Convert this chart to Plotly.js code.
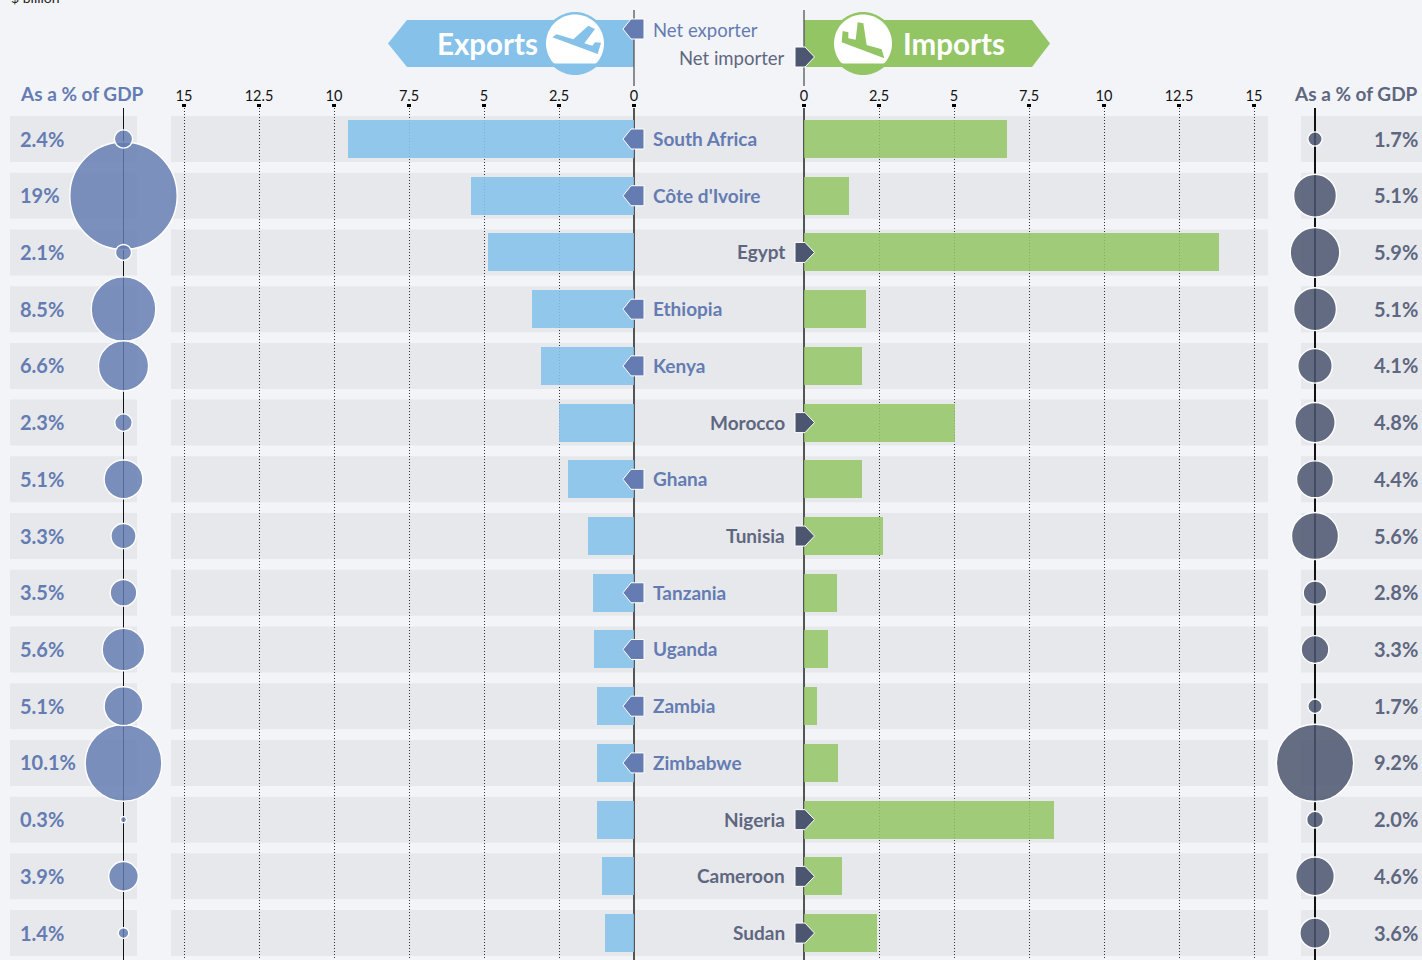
<!DOCTYPE html>
<html><head><meta charset="utf-8">
<script src="https://cdn.plot.ly/plotly-3.0.1.min.js"></script>
<style>html,body{margin:0;padding:0;background:#f3f4f8;overflow:hidden}#c{width:1422px;height:960px}</style>
</head><body><div id="c"></div>
<script>
const countries = ["South Africa","Côte d'Ivoire","Egypt","Ethiopia","Kenya","Morocco","Ghana","Tunisia","Tanzania","Uganda","Zambia","Zimbabwe","Nigeria","Cameroon","Sudan"];
const exportsBn = [9.53,5.43,4.87,3.4,3.1,2.5,2.2,1.53,1.37,1.33,1.23,1.23,1.23,1.07,0.97];
const importsBn = [6.77,1.5,13.83,2.07,1.93,5.03,1.93,2.63,1.1,0.8,0.43,1.13,8.33,1.27,2.43];
const exportsGdp = [2.4,19,2.1,8.5,6.6,2.3,5.1,3.3,3.5,5.6,5.1,10.1,0.3,3.9,1.4];
const importsGdp = [1.7,5.1,5.9,5.1,4.1,4.8,4.4,5.6,2.8,3.3,1.7,9.2,2.0,4.6,3.6];
const tickVals = [0,2.5,5,7.5,10,12.5,15];
const tickText = ["0","2.5","5","7.5","10","12.5","15"];

const W=1422,H=960, ROW0=139, ROWH=56.72, TOP=108;
const BLUE='#647cb2', SLATE='#5e677f', DARK='#4d5670', HEAD_B='#85c1e9', HEAD_G='#93c565', BAND='#e7e8ec';
const NARROW='Lato,"Liberation Sans",sans-serif';
const TICKF='Lato,sans-serif';
const px=x=>x/W, py=y=>1-y/H;
const poly=(pts)=>'M'+pts.map(p=>px(p[0])+','+py(p[1])).join(' L')+' Z';
const rowY=i=>ROW0+ROWH*i;
const idx=countries.map((_,i)=>i);

const sizeL=v=>Math.max(6,Math.min(v,14.13)*7.6);
const sizeR=v=>v*8.4;
// biggest bubbles first, so the small ones sit on top of them
const byDesc=arr=>idx.slice().sort((a,b)=>arr[b]-arr[a]);
const orderL=byDesc(exportsGdp), orderR=byDesc(importsGdp);

const traces=[
 {type:'bar',orientation:'h',x:exportsBn,y:countries,xaxis:'x',yaxis:'y',width:0.67,marker:{color:'rgba(133,193,233,0.88)',line:{width:0}},hoverinfo:'x+y'},
 {type:'bar',orientation:'h',x:importsBn,y:countries,xaxis:'x2',yaxis:'y',width:0.67,marker:{color:'rgba(147,197,101,0.85)',line:{width:0}},hoverinfo:'x+y'},
 {type:'scatter',mode:'markers',x:orderL.map(()=>0),y:orderL.map(i=>countries[i]),xaxis:'x3',yaxis:'y',cliponaxis:false,text:orderL.map(i=>exportsGdp[i]+'%'),hoverinfo:'text+y',
  marker:{size:orderL.map(i=>sizeL(exportsGdp[i])),opacity:1,color:'rgba(100,124,178,0.84)',line:{color:'#fff',width:1.4}}},
 {type:'scatter',mode:'markers',x:orderR.map(()=>0),y:orderR.map(i=>countries[i]),xaxis:'x4',yaxis:'y',cliponaxis:false,text:orderR.map(i=>importsGdp[i].toFixed(1)+'%'),hoverinfo:'text+y',
  marker:{size:orderR.map(i=>sizeR(importsGdp[i])),opacity:1,color:'rgba(77,86,112,0.86)',line:{color:'#fff',width:1.4}}}
];

const shapes=[];
// row bands
idx.forEach(i=>{[[10,137],[171,1268],[1301,1422]].forEach(b=>{
  shapes.push({type:'rect',layer:'below',xref:'paper',yref:'paper',x0:px(b[0]),x1:px(b[1]),y0:py(rowY(i)-23),y1:py(rowY(i)+23),fillcolor:BAND,line:{width:0}});
});});
function roundPts(cx,cy,r,clip){const a=[];for(let k=0;k<72;k++){const t=k*Math.PI/36;a.push([cx+r*Math.cos(t),Math.min(cy+r*Math.sin(t),clip)]);}return a;}
const addPoly=(pts,fill,extra)=>shapes.push(Object.assign({type:'path',layer:'above',xref:'paper',yref:'paper',path:poly(pts),fillcolor:fill,line:{width:0}},extra||{}));
// header banners
addPoly([[388,43.5],[407,20],[634,20],[634,67],[407,67]],HEAD_B);
addPoly([[804,20],[1032,20],[1050,43.5],[1032,67],[804,67]],HEAD_G);
addPoly(roundPts(575,43.5,31.5,99),HEAD_B);
addPoly(roundPts(575,43.5,29,63.5),'#fff');
addPoly(roundPts(863,43.5,31.5,99),HEAD_G);
addPoly(roundPts(863,43.5,29,63.5),'#fff');
// plane icons (zoomed coordinates → page pixels)
const z=(ox,oy,p)=>p.map(q=>[ox+q[0]/3,oy+q[1]/3]);
addPoly(z(535,5,[[52,97],[65,88],[115,103],[160,62],[180,72],[148,115],[172,122],[180,112],[198,113],[188,147]]),HEAD_B);
addPoly(z(790,5,[[155,112],[158,78],[175,82],[175,100],[197,104],[203,52],[220,55],[230,120],[275,133],[283,160]]),HEAD_G);
// upper stems of the zero lines
[634,804].forEach(x=>shapes.push({type:'line',layer:'above',xref:'paper',yref:'paper',x0:px(x),x1:px(x),y0:py(10),y1:py(86),line:{color:'#555',width:1.3}}));
// net exporter / importer flags
const white={line:{color:'#fff',width:1}};
const flagE=y=>[[623,y],[631,y-10],[644,y-10],[644,y+10],[631,y+10]];
const flagI=y=>[[795,y-10],[805,y-10],[814.5,y],[805,y+10],[795,y+10]];
addPoly(flagE(29),BLUE,white);
addPoly(flagI(57),DARK,white);
idx.forEach(i=>{ if(exportsBn[i]>importsBn[i]) addPoly(flagE(rowY(i)),BLUE,white); else addPoly(flagI(rowY(i)),DARK,white); });

const ann=[];
const note=(text,x,y,anchor,size,color,bold,fam)=>ann.push({xref:'paper',yref:'paper',x:px(x),y:py(y),xanchor:anchor,yanchor:'middle',showarrow:false,text:bold?'<b>'+text+'</b>':text,font:{family:fam||NARROW,size:size,color:color},borderpad:0,borderwidth:0});
idx.forEach(i=>{
  const e=exportsBn[i]>importsBn[i];
  note(countries[i],e?653:785,rowY(i)-0.5,e?'left':'right',19,e?BLUE:SLATE,true);
  note(exportsGdp[i]+'%',20,rowY(i)-0.5,'left',20,BLUE,true);
  note(importsGdp[i].toFixed(1)+'%',1418,rowY(i)-0.5,'right',20,SLATE,true);
});
note('As a % of GDP',20,93.5,'left',19,BLUE,true);
note('As a % of GDP',1418,93.5,'right',19,SLATE,true);
note('Net exporter',653,30,'left',18.5,BLUE,false);
note('Net importer',785,58,'right',18.5,SLATE,false);
note('Exports',487,43.5,'center',29.5,'#fff',true);
note('Imports',953.5,43.5,'center',29.5,'#fff',true);
ann.push({xref:'paper',yref:'paper',x:px(10),y:py(7),xanchor:'left',yanchor:'bottom',showarrow:false,text:'$ billion',font:{family:TICKF,size:14,color:'#222'},borderpad:0});

const valAxis=(d,range)=>({domain:d,range:range,anchor:'y',side:'top',tickmode:'array',tickvals:tickVals,ticktext:tickText,showgrid:true,griddash:'1px,2px',gridcolor:'#333',gridwidth:1,
  zeroline:true,zerolinecolor:'#555',zerolinewidth:1.3,ticks:'outside',ticklen:3.5,tickwidth:3.5,tickcolor:'#000',tickfont:{family:TICKF,size:14.5,color:'#111'},showline:false,fixedrange:true,ticklabelstandoff:-3});
const gdpAxis=(d,range)=>({domain:d,range:range,anchor:'y',showgrid:false,showticklabels:false,ticks:'',zeroline:true,zerolinecolor:'#111',zerolinewidth:1.2,showline:false,fixedrange:true});

const layout={
 width:W,height:H,margin:{l:0,r:0,t:0,b:0},paper_bgcolor:'#f3f4f8',plot_bgcolor:'rgba(0,0,0,0)',showlegend:false,bargap:0,barmode:'overlay',
 xaxis:valAxis([px(171),px(634)],[(634-171)/30,0]),
 xaxis2:valAxis([px(804),px(1268)],[0,(1268-804)/30]),
 xaxis3:gdpAxis([0,px(170)],[-123.5,46.5]),
 xaxis4:gdpAxis([px(1269),1],[-46,107]),
 yaxis:{domain:[0,py(TOP)],type:'category',categoryorder:'array',categoryarray:countries,range:[(H-ROW0)/ROWH,(TOP-ROW0)/ROWH],showgrid:false,showticklabels:false,ticks:'',zeroline:false,showline:false,fixedrange:true,anchor:'x'},
 shapes:shapes,annotations:ann
};
Plotly.newPlot('c',traces,layout,{displayModeBar:false,staticPlot:true});
</script></body></html>
